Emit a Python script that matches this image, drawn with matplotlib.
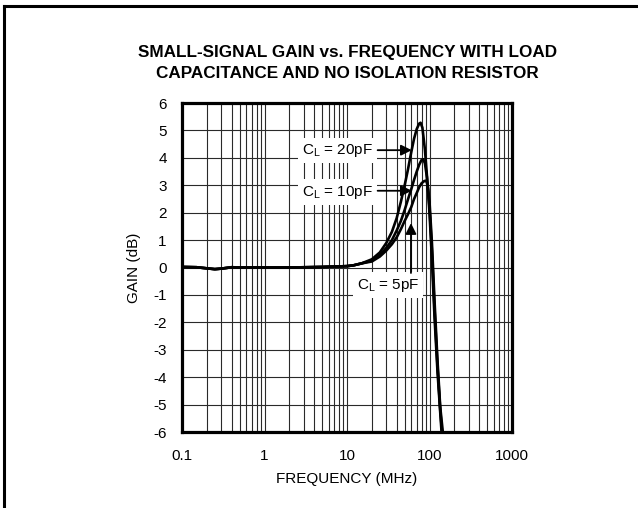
import matplotlib
matplotlib.use("Agg")
import matplotlib.pyplot as plt
from matplotlib import font_manager
from matplotlib.lines import Line2D

# pick a narrow sans if there is one
installed = {f.name for f in font_manager.fontManager.ttflist}
if 'Liberation Sans Narrow' in installed:
    plt.rcParams['font.family'] = ['Liberation Sans Narrow', 'DejaVu Sans']
    fs, fs_title = 11.5, 14
else:
    plt.rcParams['font.family'] = ['Liberation Sans', 'DejaVu Sans']
    fs, fs_title = 11, 12.3

# shared flat part of the response (MHz, dB)
freq_low = [0.1, 0.15, 0.2, 0.25, 0.3, 0.4, 0.5, 1, 2, 5, 10, 12, 15]
gain_low = [0.02, 0.01, -0.03, -0.06, -0.04, 0.01, 0.0, 0.0, 0.0, 0.02, 0.05, 0.08, 0.15]

freq_20pf = [20, 25, 30, 35, 40, 45, 50, 55, 60, 65, 70, 75, 78, 82, 88, 95, 100, 107, 115, 125, 135, 140]
gain_20pf = [0.3, 0.55, 0.9, 1.3, 1.8, 2.4, 3.0, 3.6, 4.2, 4.7, 5.05, 5.25, 5.28, 5.1, 4.3, 3.0, 2.0, 0.3, -1.8, -3.8, -5.3, -6.0]

freq_10pf = [20, 25, 30, 35, 40, 45, 50, 55, 60, 65, 70, 75, 80, 84, 88, 93, 100, 107, 115, 125, 135, 142]
gain_10pf = [0.25, 0.45, 0.72, 1.0, 1.35, 1.7, 2.1, 2.5, 2.85, 3.2, 3.5, 3.75, 3.92, 3.95, 3.8, 3.3, 2.2, 0.6, -1.5, -3.6, -5.2, -6.0]

freq_5pf = [20, 25, 30, 35, 40, 45, 50, 55, 60, 65, 70, 75, 80, 86, 91, 95, 100, 107, 115, 125, 135, 145]
gain_5pf = [0.22, 0.4, 0.62, 0.85, 1.1, 1.4, 1.7, 1.95, 2.2, 2.5, 2.72, 2.93, 3.07, 3.15, 3.17, 3.0, 2.4, 0.9, -1.2, -3.4, -5.1, -6.0]

x_ticks = [0.1, 1, 10, 100, 1000]
x_labels = ['0.1', '1', '10', '100', '1000']
y_ticks = list(range(-6, 7))

fig = plt.figure(figsize=(6.38, 5.08), dpi=100)
ax = fig.add_axes([0.2853, 0.1496, 0.5172, 0.6476])

for f, g in [(freq_20pf, gain_20pf), (freq_10pf, gain_10pf), (freq_5pf, gain_5pf)]:
    ax.plot(freq_low + f, gain_low + g, color='black', lw=1.9, zorder=4, solid_joinstyle='round')

ax.set_xscale('log')
ax.set_xlim(0.1, 1000)
ax.set_ylim(-6, 6)

# grid: every 1..9 in each decade, every dB
for dec in [0.1, 1, 10, 100]:
    for m in range(1, 10):
        ax.axvline(dec * m, color='#2a2a2a', lw=0.8, zorder=1)
for y in y_ticks:
    ax.axhline(y, color='#2a2a2a', lw=0.8, zorder=1)

ax.set_xticks(x_ticks)
ax.set_xticklabels(x_labels)
ax.xaxis.set_minor_locator(matplotlib.ticker.NullLocator())
ax.set_yticks(y_ticks)
ax.set_yticklabels([str(v) for v in y_ticks])
ax.tick_params(axis='both', length=0, labelsize=fs)
ax.tick_params(axis='x', pad=12)
ax.tick_params(axis='y', pad=11)

for s in ax.spines.values():
    s.set_linewidth(2.3)
    s.set_zorder(5)

ax.set_xlabel('FREQUENCY (MHz)', fontsize=fs)
ax.xaxis.set_label_coords(0.5, -0.122)
ax.set_ylabel('GAIN (dB)', fontsize=fs)
ax.yaxis.set_label_coords(-0.125, 0.5)

# curve labels with arrows
box = dict(facecolor='white', edgecolor='none', pad=3)
arrow = dict(arrowstyle='-|>', color='black', lw=1.3, mutation_scale=16, shrinkA=0, shrinkB=0)

ax.text(20.5, 4.28, 'C$_\\mathregular{L}$ = 20pF', ha='right', va='center', fontsize=fs, bbox=box, zorder=3)
ax.annotate('', xy=(61, 4.28), xytext=(23.5, 4.28), arrowprops=arrow, zorder=3)

ax.text(20.5, 2.75, 'C$_\\mathregular{L}$ = 10pF', ha='right', va='center', fontsize=fs, bbox=box, zorder=3)
ax.annotate('', xy=(61, 2.8), xytext=(23.5, 2.8), arrowprops=arrow, zorder=3)

ax.text(31.4, -0.64, 'C$_\\mathregular{L}$ = 5pF', ha='center', va='center', fontsize=fs, bbox=box, zorder=3)
ax.annotate('', xy=(59.6, 1.62), xytext=(59.6, -0.2), arrowprops=arrow, zorder=3)

fig.text(0.545, 0.876, 'SMALL-SIGNAL GAIN vs. FREQUENCY WITH LOAD\nCAPACITANCE AND NO ISOLATION RESISTOR',
         ha='center', va='center', fontsize=fs_title, fontweight='bold', linespacing=1.45)

# page frame (left and top edges)
fig.add_artist(Line2D([0.0063, 0.0063], [0.0, 0.988], transform=fig.transFigure, color='black', lw=2.2))
fig.add_artist(Line2D([0.0063, 1.0], [0.988, 0.988], transform=fig.transFigure, color='black', lw=2.2))

fig.savefig('out.png', dpi=100)
